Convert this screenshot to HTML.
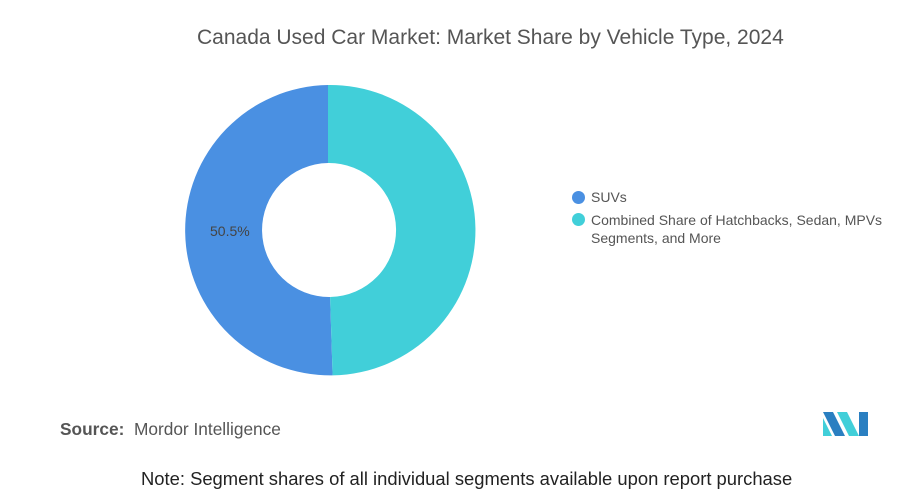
<!DOCTYPE html>
<html><head><style>
body{margin:0;width:922px;height:493px;background:#fff;font-family:"Liberation Sans",sans-serif;position:relative;overflow:hidden}
.t{position:absolute;left:197px;white-space:nowrap;top:26px;font-size:21px;color:#555}
.lg{position:absolute;font-size:14px;color:#555}
.dot{position:absolute;width:13px;height:13px;border-radius:50%}
</style></head><body>
<div class="t">Canada Used Car Market: Market Share by Vehicle Type, 2024</div>
<svg width="922" height="493" style="position:absolute;left:0;top:0">
<path d="M328,85 A145,145 0 0 0 332.6,375.4 L330.1,297 A67,67 0 0 1 328,163 Z" fill="#4a90e2"/>
<path d="M328,85 A145,145 0 0 1 332.6,375.4 L330.1,297 A67,67 0 0 0 328,163 Z" fill="#41cfd9"/>
<text x="210" y="236" font-size="14" fill="#444" font-family="Liberation Sans">50.5%</text>
<g transform="translate(823,412)">
<polygon points="0,0 10,0 22,24 12,24" fill="#2a7fc1"/>
<polygon points="0,6 0,24 9,24" fill="#41cfd9"/>
<polygon points="14,0 24,0 36,24 26,24" fill="#41cfd9"/>
<polygon points="36,0 45,0 45,24 36,24" fill="#2a7fc1"/>
</g>
</svg>
<div class="dot" style="left:572px;top:191px;background:#4a90e2"></div>
<div class="lg" style="left:591px;top:189px">SUVs</div>
<div class="dot" style="left:572px;top:213px;background:#41cfd9"></div>
<div class="lg" style="left:591px;top:211px;line-height:18px">Combined Share of Hatchbacks, Sedan, MPVs<br>Segments, and More</div>
<div style="position:absolute;left:60px;top:419px;font-size:17.3px;color:#555"><b>Source:</b>&nbsp; Mordor Intelligence</div>
<div style="position:absolute;left:141px;white-space:nowrap;top:468px;font-size:18.4px;color:#222">Note: Segment shares of all individual segments available upon report purchase</div>
</body></html>
